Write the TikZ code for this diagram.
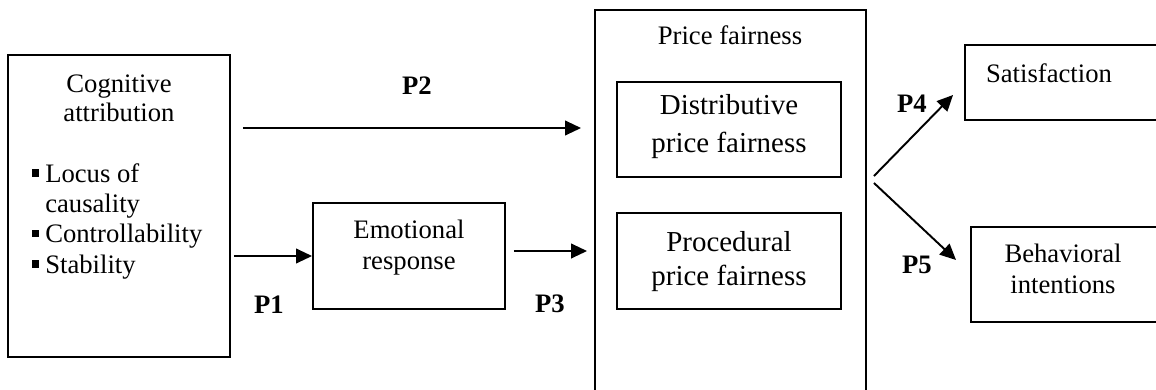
\documentclass[tikz,border=0pt]{standalone}
\usepackage{fontspec}
\setmainfont{Liberation Serif}
\usetikzlibrary{arrows.meta,calc}
\newcommand{\mybul}{\makebox[9.75pt][l]{\rule[4pt]{5.2pt}{5.6pt}}}
\tikzset{
  box/.style={draw, line width=1.45pt, inner sep=0pt, rectangle},
  txt/.style={inner sep=0pt, align=center, font=\fontsize{20}{22.5}\selectfont},
  big/.style={inner sep=0pt, align=center, font=\fontsize{21.7}{28}\selectfont},
  plab/.style={inner sep=0pt, anchor=base, font=\fontsize{20}{22.5}\selectfont\bfseries},
  arr/.style={line width=1.45pt, -{Triangle[length=12pt,width=11pt]}}
}
\begin{document}
\begin{tikzpicture}[x=0.75pt,y=-0.75pt]
\useasboundingbox (0,0) rectangle (1156,389);
% boxes
\node[box, minimum width=166.5pt, minimum height=226.5pt] (cog) at (119,206) {};
\node[box, minimum width=144pt, minimum height=79.5pt] (emo) at (409,256) {};
\node[box, minimum width=203.25pt, minimum height=291pt] (pf) at (730.5,204) {};
\node[box, minimum width=168pt, minimum height=71.25pt] (dist) at (729,129.5) {};
\node[box, minimum width=168pt, minimum height=72pt] (proc) at (729,261) {};
\node[box, minimum width=153.75pt, minimum height=56.25pt] (sat) at (1067.5,82.5) {};
\node[box, minimum width=149.25pt, minimum height=71.25pt] (beh) at (1070.5,274.5) {};
% texts (base anchor = baseline of last line)
\node[txt, anchor=base, font=\fontsize{20}{21.75}\selectfont] (cogt) at (119,121) {Cognitive\\attribution};
\node[txt, anchor=base west, align=left, font=\fontsize{20}{22.7}\selectfont] (cogl) at (32,273)
  {\mybul Locus of\\\hspace*{9.75pt}causality\\\mybul Controllability\\\mybul Stability};
\node[txt, anchor=base, font=\fontsize{20}{23.25}\selectfont] (emot) at (409,269) {Emotional\\response};
\node[txt, anchor=base] (pft) at (730,44) {Price fairness};
\node[big, anchor=base, font=\fontsize{21.7}{28}\selectfont] (distt) at (729,152) {Distributive\\price fairness};
\node[big, anchor=base, font=\fontsize{21.7}{25.5}\selectfont] (proct) at (729,285) {Procedural\\price fairness};
\node[txt, anchor=base] (satt) at (1049,82) {Satisfaction};
\node[txt, anchor=base, font=\fontsize{20}{23.25}\selectfont] (beht) at (1063,293) {Behavioral\\intentions};
% labels
\node[plab] (p1) at (269,313) {P1};
\node[plab] (p2) at (417,94) {P2};
\node[plab] (p3) at (550,312) {P3};
\node[plab] (p4) at (912,112) {P4};
\node[plab] (p5) at (917,273) {P5};
% connectors
\draw[arr, shorten <=9pt, shorten >=9.75pt] (cog.east |- 0,128) -- (pf.west |- 0,128);
\draw[arr, shorten <=2.25pt] (cog.east |- emo.west) -- (emo.west);
\draw[arr, shorten <=6pt, shorten >=5.25pt] ($(emo.east)+(0,-5)$) -- (pf.west |- 0,251);
\coordinate (f4) at ($(pf.east |- 0,176)+(7,0)$);
\coordinate (f5) at ($(pf.east |- 0,183)+(7,0)$);
\draw[arr] (f4) -- ($(sat.west)+(-11,12.5)$);
\draw[arr] (f5) -- ($(beh.west)+(-14,-14.5)$);
\end{tikzpicture}
\end{document}
